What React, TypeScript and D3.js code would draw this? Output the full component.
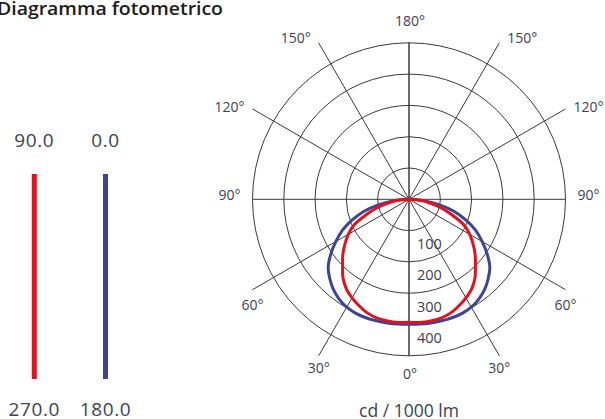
import React from "react";
import * as d3 from "d3";

const title = "Diagramma fotometrico";
const unitLabel = "cd / 1000 lm";
const gammaAngles = [0, 5, 10, 15, 20, 25, 30, 35, 40, 45, 50, 55, 60, 65, 70, 75, 80, 85, 90];
// C0-C180 plane (blue)
const planeC0 = [399, 400, 401, 402, 403, 402, 398, 389, 376, 358, 337, 305, 270, 235, 193, 150, 97, 48, 0];
// C90-C270 plane (red)
const planeC90 = [393, 395, 395, 393, 387, 376, 364, 349, 328, 300, 276, 250, 224, 193, 147, 107, 68, 34, 0];
const ringValues = [100, 200, 300, 400, 500];
const ringLabels = [100, 200, 300, 400];
const spokeAngles = [0, 30, 60, 90, 120, 150, 180];
const legendSeries = [
  { top: "90.0", bottom: "270.0", color: "#e3111b", values: planeC90 },
  { top: "0.0", bottom: "180.0", color: "#3b4596", values: planeC0 },
];

const W = 605;
const H = 419;
const cx = 409;
const cy = 199.3;
const R = 156.5;
const textColor = "#3b4254";
const gridColor = "#3a3a3a";
const font = "'Open Sans', sans-serif";

export default function App() {
  const rScale = d3.scaleLinear().domain([0, 500]).range([0, R]);
  const rad = (deg: number) => (deg * Math.PI) / 180;

  // spoke end on bounding square of the outer circle
  const spokeEnd = (g: number, side: number) => {
    const s = Math.sin(rad(g));
    const c = Math.cos(rad(g));
    const len = R / Math.max(Math.abs(s), Math.abs(c));
    return { x: cx + side * s * len, y: cy + c * len };
  };

  const makePath = (values: number[]) => {
    const pts: [number, number][] = [];
    for (let i = gammaAngles.length - 1; i >= 0; i--) pts.push([rad(180 + gammaAngles[i]), rScale(values[i])]);
    for (let i = 1; i < gammaAngles.length; i++) pts.push([rad(180 - gammaAngles[i]), rScale(values[i])]);
    const line = d3
      .lineRadial<[number, number]>()
      .angle((d) => d[0])
      .radius((d) => d[1])
      .curve(d3.curveCatmullRom.alpha(0.5));
    return line(pts) || "";
  };

  const angleLabels: { x: number; y: number; text: string; anchor: string }[] = [];
  spokeAngles.forEach((g) => {
    const sides = g === 0 || g === 180 ? [1] : [-1, 1];
    sides.forEach((side) => {
      const e = spokeEnd(g, side);
      const text = `${g}°`;
      if (g === 180) angleLabels.push({ x: e.x + 1, y: e.y - 22, text, anchor: "middle" });
      else if (g === 0) angleLabels.push({ x: e.x + 1, y: e.y + 18, text, anchor: "middle" });
      else if (g < 90) angleLabels.push({ x: e.x, y: e.y + (g === 60 ? 15 : 11.5), text, anchor: "middle" });
      else {
        const gap = g === 90 ? 12 : 8;
        const dy = g === 120 ? -2 : -5;
        angleLabels.push({ x: e.x + side * gap, y: e.y + dy, text, anchor: side < 0 ? "end" : "start" });
      }
    });
  });

  const legendY = d3.scaleLinear().domain([0, 1]).range([174, 379]);
  const legendX = d3.scalePoint<string>().domain(legendSeries.map((d) => d.top)).range([34.3, 105.5]);

  return (
    <svg width={W} height={H} style={{ position: "absolute", left: 0, top: 0 }} fontFamily={font}>
      <rect width={W} height={H} fill="#ffffff" />
      <text x={-3} y={15} fontSize={18} fontWeight={600} fill="#1b1b1b" textLength={226} lengthAdjust="spacingAndGlyphs">
        {title}
      </text>

      {/* legend */}
      {legendSeries.map((s) => (
        <g key={s.top}>
          <text x={legendX(s.top)} y={146.5} textAnchor="middle" fontSize={19} letterSpacing={0.6} fill={textColor}>
            {s.top}
          </text>
          <line x1={legendX(s.top)} x2={legendX(s.top)} y1={legendY(0)} y2={legendY(1)} stroke={s.color} strokeWidth={5} />
          <text x={legendX(s.top)} y={416.3} textAnchor="middle" fontSize={19} letterSpacing={0.6} fill={textColor}>
            {s.bottom}
          </text>
        </g>
      ))}

      {/* grid */}
      {ringValues.map((v) => (
        <circle key={v} cx={cx} cy={cy} r={rScale(v)} fill="none" stroke={gridColor} strokeWidth={1} />
      ))}
      {spokeAngles.map((g) =>
        [-1, 1].map((side) => {
          const e = spokeEnd(g, side);
          return <line key={`${g}_${side}`} x1={cx} y1={cy} x2={e.x} y2={e.y} stroke={gridColor} strokeWidth={1} />;
        })
      )}

      {/* curves */}
      <g transform={`translate(${cx},${cy})`}>
        {legendSeries
          .slice()
          .reverse()
          .map((s) => (
            <path key={s.top} d={makePath(s.values)} fill="none" stroke={s.color} strokeWidth={3} strokeLinejoin="round" />
          ))}
      </g>

      {/* ring labels */}
      {ringLabels.map((v) => (
        <text key={v} x={cx + 8} y={cy + rScale(v) + 13} dominantBaseline="central" fontSize={14.5} fill={textColor}>
          {v}
        </text>
      ))}

      {/* angle labels */}
      {angleLabels.map((l, i) => (
        <text key={i} x={l.x} y={l.y} textAnchor={l.anchor} dominantBaseline="central" fontSize={14} fill={textColor}>
          {l.text}
        </text>
      ))}

      <text x={cx} y={410} textAnchor="middle" dominantBaseline="central" fontSize={17.5} fill={textColor}>
        {unitLabel}
      </text>
    </svg>
  );
}
